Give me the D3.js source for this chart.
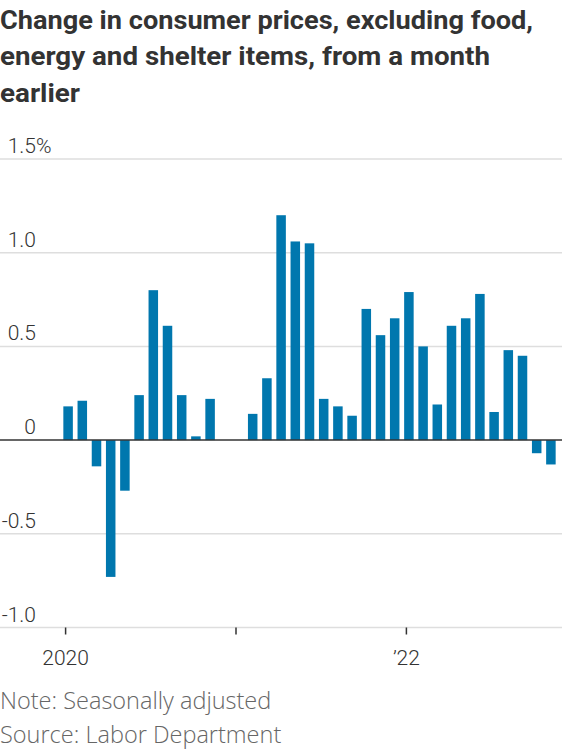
<!DOCTYPE html>
<html lang="en">
  <head>
    <meta charset="utf-8" />
    <title>Core prices ex shelter</title>
    <style>
      body { margin: 0; background: #fff; }
      svg text { font-family: Roboto, "Open Sans", sans-serif; }
    </style>
  </head>
  <body>
    <div id="chart"></div>
    <script src="https://cdnjs.cloudflare.com/ajax/libs/d3/7.8.5/d3.min.js"></script>
    <script>
      // monthly change, %, Jan 2020 .. Nov 2022
      const months = d3.range(35).map((i) => new Date(2020, i, 1));
      const values = [
        0.18, 0.21, -0.14, -0.73, -0.27, 0.24, 0.80, 0.61, 0.24, 0.02, 0.22, 0.0,
        0.0, 0.14, 0.33, 1.20, 1.06, 1.05, 0.22, 0.18, 0.13, 0.70, 0.56, 0.65,
        0.79, 0.50, 0.19, 0.61, 0.65, 0.78, 0.15, 0.48, 0.45, -0.07, -0.13
      ];
      const yTicks = [1.5, 1.0, 0.5, 0, -0.5, -1.0];
      const yTickLabels = ["1.5", "1.0", "0.5", "0", "-0.5", "-1.0"];
      const xTicks = [new Date(2020, 0, 1), new Date(2021, 0, 1), new Date(2022, 0, 1)];
      const xTickLabels = ["2020", "", "\u201922"];
      const titleLines = [
        "Change in consumer prices, excluding food,",
        "energy and shelter items, from a month",
        "earlier"
      ];
      const notes = ["Note: Seasonally adjusted", "Source: Labor Department"];

      const width = 562, height = 750;
      const svg = d3.select("#chart").append("svg")
        .attr("width", width).attr("height", height);

      // title; the house font is narrower, so fit each line to its width
      const titleWidths = [533, 490, 80];
      svg.append("g").attr("id", "title")
        .selectAll("text")
        .data(titleLines)
        .join("text")
        .attr("x", 0)
        .attr("y", (d, i) => 28.5 + i * 36.5)
        .attr("fill", "#333")
        .attr("font-size", 25)
        .attr("font-weight", 700)
        .attr("textLength", (d, i) => titleWidths[i])
        .attr("lengthAdjust", "spacingAndGlyphs")
        .text((d) => d);

      const x = d3.scaleBand()
        .domain(d3.range(months.length))
        .range([61, 558])
        .paddingInner(0.33)
        .paddingOuter(0.165);

      const y = d3.scaleLinear().domain([-1.0, 1.5]).range([627.5, 159]);

      const monthIdx = (d) => (d.getFullYear() - 2020) * 12 + d.getMonth();

      // gridlines
      svg.append("g").selectAll("line")
        .data(yTicks.filter((d) => d !== 0))
        .join("line")
        .attr("x1", 0).attr("x2", width)
        .attr("y1", (d) => y(d)).attr("y2", (d) => y(d))
        .attr("stroke", "#dedede").attr("stroke-width", 1.5);

      // y labels
      const yl = svg.append("g");
      yl.selectAll("text")
        .data(yTicks)
        .join("text")
        .attr("x", 36)
        .attr("y", (d) => y(d) - 6)
        .attr("text-anchor", "end")
        .attr("font-size", 21)
        .attr("font-weight", 300)
        .attr("fill", "#333")
        .text((d, i) => yTickLabels[i]);
      yl.append("text")
        .attr("x", 36).attr("y", y(yTicks[0]) - 6)
        .attr("font-size", 21).attr("font-weight", 300).attr("fill", "#333")
        .text("%");

      // bars
      svg.append("g").selectAll("rect")
        .data(values)
        .join("rect")
        .attr("x", (d, i) => x(i))
        .attr("width", x.bandwidth())
        .attr("y", (d) => y(Math.max(0, d)))
        .attr("height", (d) => Math.abs(y(d) - y(0)))
        .attr("fill", "#0077ae");

      // zero line
      svg.append("line")
        .attr("x1", 0).attr("x2", width)
        .attr("y1", y(0)).attr("y2", y(0))
        .attr("stroke", "#333").attr("stroke-width", 1.5);

      // x axis ticks and labels
      const xa = svg.append("g");
      xa.selectAll("line")
        .data(xTicks)
        .join("line")
        .attr("x1", (d) => x(monthIdx(d)) + x.bandwidth() / 2 - 2.5)
        .attr("x2", (d) => x(monthIdx(d)) + x.bandwidth() / 2 - 2.5)
        .attr("y1", y(-1.0)).attr("y2", y(-1.0) + 7)
        .attr("stroke", "#333").attr("stroke-width", 1.5);
      xa.selectAll("text")
        .data(xTicks)
        .join("text")
        .attr("x", (d) => x(monthIdx(d)) + x.bandwidth() / 2 - 2.5)
        .attr("y", 665)
        .attr("text-anchor", "middle")
        .attr("font-size", 21)
        .attr("font-weight", 300)
        .attr("fill", "#333")
        .text((d, i) => xTickLabels[i]);

      // notes
      svg.append("g").selectAll("text")
        .data(notes)
        .join("text")
        .attr("x", 0)
        .attr("y", (d, i) => 709 + i * 33.5)
        .attr("font-size", 23.5)
        .attr("font-weight", 300)
        .attr("fill", "#666")
        .style("font-family", "'Open Sans', Roboto, sans-serif")
        .text((d) => d);
    </script>
  </body>
</html>
